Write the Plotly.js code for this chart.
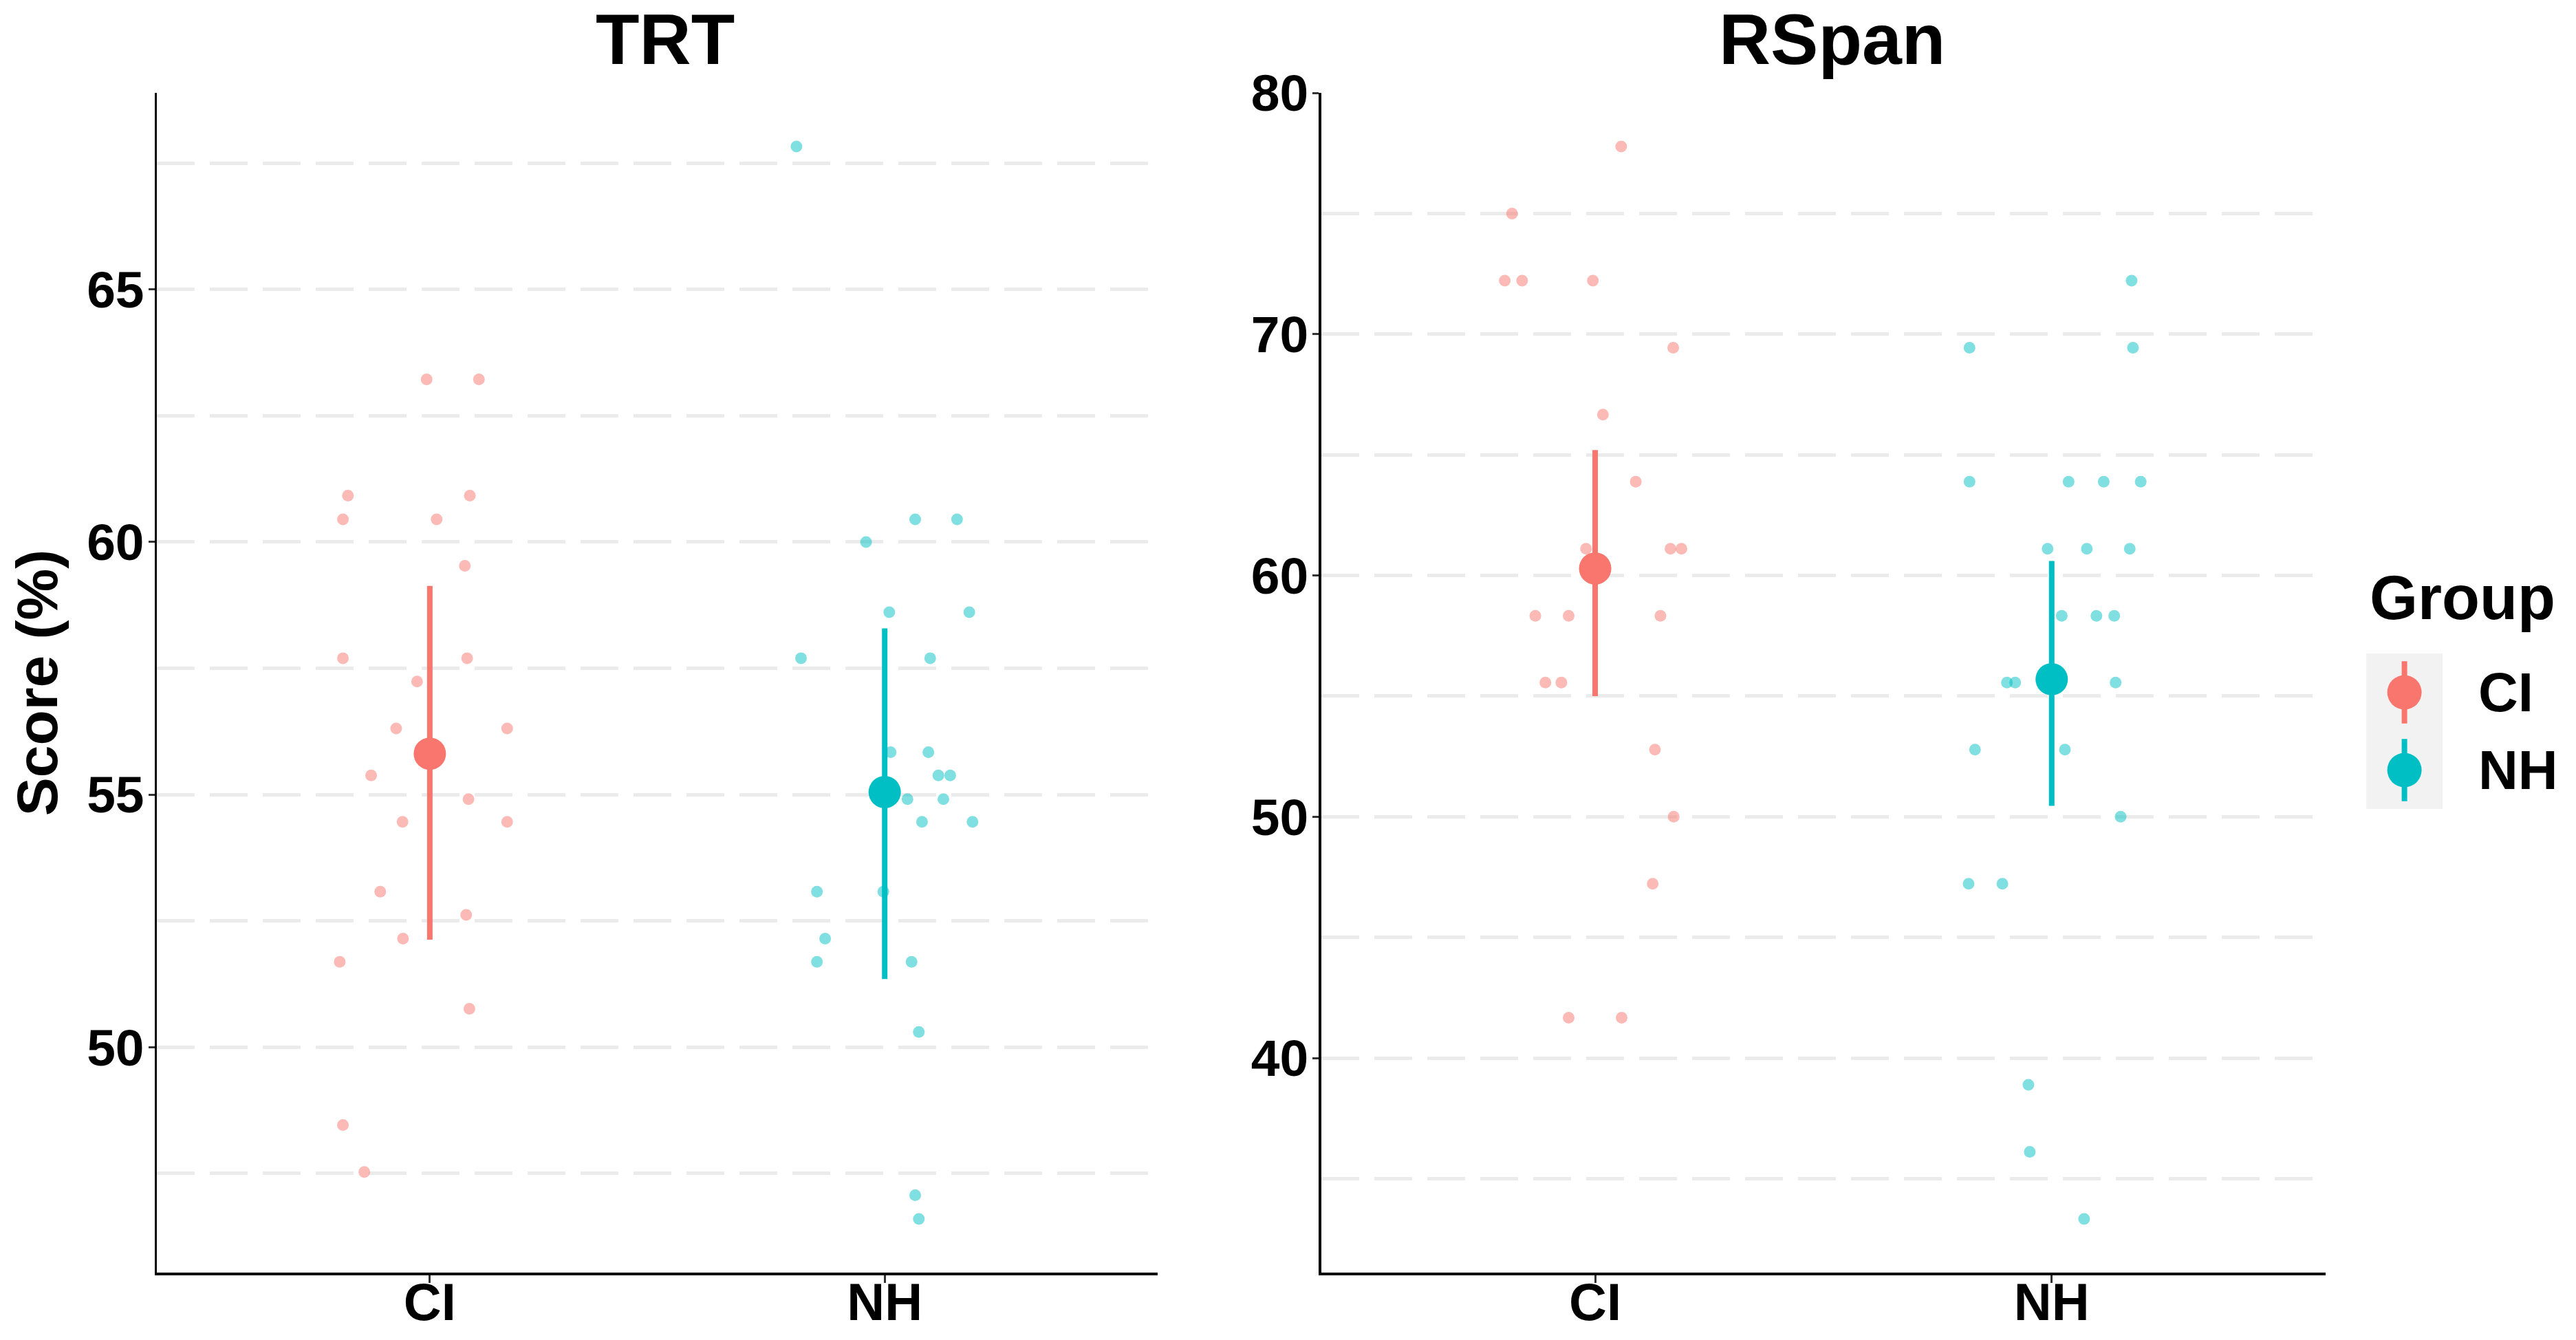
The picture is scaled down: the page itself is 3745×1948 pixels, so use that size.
<!DOCTYPE html>
<html>
<head>
<meta charset="utf-8">
<script src="https://cdn.plot.ly/plotly-3.0.1.min.js"></script>
<style>
    html, body { margin: 0; padding: 0; background: #ffffff; }
    #chart { width: 3745px; height: 1948px; }
</style>
</head>
<body>
<div id="chart"></div>
<script>
var groups = ["CI", "NH"];
var groupColors = ["#F8766D", "#00BFC4"];

// TRT scores (%), with the horizontal jitter of each point
var trtCiScores = [63.22, 63.22, 60.92, 60.92, 60.45, 60.45, 59.53, 57.70, 57.70, 57.24, 56.31, 56.31,
    55.38, 54.91, 54.46, 54.46, 53.08, 52.62, 52.15, 51.69, 50.76, 48.46, 47.53];
var trtCiJitter = [-0.007, 0.108, -0.180, 0.088, -0.191, 0.015, 0.077, -0.191, 0.082, -0.028, -0.074, 0.170,
    -0.129, 0.085, -0.060, 0.170, -0.109, 0.080, -0.059, -0.198, 0.087, -0.191, -0.144];
var trtNhScores = [67.83, 60.45, 60.45, 60.00, 58.61, 58.61, 57.70, 57.70, 55.84, 55.84, 55.38, 55.38,
    54.91, 54.91, 54.46, 54.46, 53.08, 53.08, 52.15, 51.69, 51.69, 50.30, 47.07, 46.60];
var trtNhJitter = [-0.194, 0.067, 0.159, -0.041, 0.010, 0.186, -0.184, 0.100, 0.013, 0.096, 0.118, 0.144,
    0.050, 0.129, 0.082, 0.193, -0.149, -0.003, -0.131, -0.149, 0.059, 0.075, 0.067, 0.075];
var trtMeans = [55.81, 55.05];
var trtLower = [52.13, 51.35];
var trtUpper = [59.13, 58.29];

// RSpan scores (%)
var rspanCiScores = [77.78, 75.00, 72.22, 72.22, 72.22, 69.44, 66.67, 63.89, 61.11, 61.11, 61.11,
    58.33, 58.33, 58.33, 55.56, 55.56, 52.78, 50.00, 47.22, 41.67, 41.67];
var rspanCiJitter = [0.057, -0.182, -0.198, -0.160, -0.005, 0.171, 0.017, 0.089, -0.020, 0.165, 0.189,
    -0.131, -0.058, 0.143, -0.109, -0.074, 0.131, 0.172, 0.126, -0.058, 0.058];
var rspanNhScores = [72.22, 69.44, 69.44, 63.89, 63.89, 63.89, 63.89, 61.11, 61.11, 61.11, 58.33, 58.33,
    58.33, 55.56, 55.56, 55.56, 52.78, 52.78, 50.00, 47.22, 47.22, 38.89, 36.11, 33.33];
var rspanNhJitter = [0.175, -0.180, 0.178, -0.180, 0.037, 0.114, 0.195, -0.009, 0.077, 0.171, 0.022, 0.098,
    0.137, -0.098, -0.080, 0.140, -0.168, 0.029, 0.151, -0.182, -0.108, -0.051, -0.048, 0.071];
var rspanMeans = [60.29, 55.70];
var rspanLower = [55.00, 50.45];
var rspanUpper = [65.20, 60.60];

var fontFamily = "Liberation Sans, Arial, sans-serif";

// same 5% padding ggplot puts round the data
function paddedRange(a, b) {
    var all = a.concat(b);
    var lo = Math.min.apply(null, all);
    var hi = Math.max.apply(null, all);
    var pad = (hi - lo) * 0.05;
    return [lo - pad, hi + pad];
}

function pointTrace(scores, jitter, g, axisId) {
    return {
        type: "scatter",
        mode: "markers",
        x: scores.map(function (s, i) { return g + 1 + jitter[i]; }),
        y: scores,
        xaxis: "x" + axisId,
        yaxis: "y" + axisId,
        marker: { color: groupColors[g], size: 17, opacity: 0.5, line: { width: 0 } },
        showlegend: false,
        hoverinfo: "skip"
    };
}

function summaryTrace(means, lower, upper, g, axisId) {
    return {
        type: "scatter",
        mode: "markers",
        x: [g + 1],
        y: [means[g]],
        xaxis: "x" + axisId,
        yaxis: "y" + axisId,
        marker: { color: groupColors[g], size: 47, line: { width: 0 } },
        error_y: {
            type: "data",
            symmetric: false,
            array: [upper[g] - means[g]],
            arrayminus: [means[g] - lower[g]],
            color: groupColors[g],
            thickness: 8,
            width: 0
        },
        showlegend: false,
        hoverinfo: "skip"
    };
}

// legend keys drawn in their own little subplot (error bars need a linear axis)
function legendTrace(g) {
    return {
        type: "scatter",
        mode: "markers",
        x: [0],
        y: [g],
        xaxis: "x3",
        yaxis: "y3",
        marker: { color: groupColors[g], size: 50, line: { width: 0 } },
        error_y: { type: "constant", value: 0.4, color: groupColors[g], thickness: 8, width: 0 },
        showlegend: false,
        hoverinfo: "skip"
    };
}

function gridStyle(step) {
    return { dtick: step, showgrid: true, gridcolor: "#EBEBEB", gridwidth: 5, griddash: "55px,22px" };
}

function valueAxis(range, step, anchor) {
    var axis = gridStyle(step);
    axis.range = range;
    axis.tick0 = 0;
    axis.anchor = anchor;
    axis.minor = gridStyle(step / 2);
    axis.zeroline = false;
    axis.showline = true;
    axis.linecolor = "#000000";
    axis.linewidth = 3.5;
    axis.ticks = "outside";
    axis.ticklen = 9;
    axis.tickwidth = 3;
    axis.tickcolor = "#333333";
    axis.ticklabelstandoff = -9;
    axis.tickfont = { family: fontFamily, size: 75, weight: "bold", color: "#000000" };
    axis.fixedrange = true;
    return axis;
}

function groupAxis(domain, anchor) {
    return {
        domain: domain,
        anchor: anchor,
        range: [0.4, 2.6],
        tickvals: [1, 2],
        ticktext: groups,
        showgrid: false,
        zeroline: false,
        showline: true,
        linecolor: "#000000",
        linewidth: 3.5,
        ticks: "outside",
        ticklen: 11,
        tickwidth: 3,
        tickcolor: "#333333",
        ticklabelstandoff: -37,
        tickfont: { family: fontFamily, size: 76, weight: "bold", color: "#000000" },
        fixedrange: true
    };
}

var data = [
    pointTrace(trtCiScores, trtCiJitter, 0, ""),
    pointTrace(trtNhScores, trtNhJitter, 1, ""),
    summaryTrace(trtMeans, trtLower, trtUpper, 0, ""),
    summaryTrace(trtMeans, trtLower, trtUpper, 1, ""),
    pointTrace(rspanCiScores, rspanCiJitter, 0, "2"),
    pointTrace(rspanNhScores, rspanNhJitter, 1, "2"),
    summaryTrace(rspanMeans, rspanLower, rspanUpper, 0, "2"),
    summaryTrace(rspanMeans, rspanLower, rspanUpper, 1, "2"),
    legendTrace(0),
    legendTrace(1)
];

var yaxis = valueAxis(paddedRange(trtCiScores, trtNhScores), 5, "x");
yaxis.title = { text: "Score (%)", font: { family: fontFamily, size: 84, weight: "bold", color: "#000000" }, standoff: 15 };
yaxis.automargin = false;

var titleFont = { family: fontFamily, size: 104, weight: "bold", color: "#000000" };

var layout = {
    width: 3745,
    height: 1948,
    margin: { l: 0, r: 0, t: 135, b: 98 },
    paper_bgcolor: "#ffffff",
    plot_bgcolor: "#ffffff",
    showlegend: false,
    xaxis: groupAxis([0.0609, 0.4494], "y"),
    yaxis: yaxis,
    xaxis2: groupAxis([0.5129, 0.9028], "y2"),
    yaxis2: valueAxis(paddedRange(rspanCiScores, rspanNhScores), 10, "x2"),
    xaxis3: {
        domain: [0.9186, 0.9482], anchor: "y3", range: [-1, 1],
        showgrid: false, zeroline: false, showline: false, showticklabels: false, ticks: "", fixedrange: true
    },
    yaxis3: {
        domain: [0.3930, 0.5248], anchor: "x3", range: [1.5, -0.5],
        tickvals: [0, 1], ticktext: groups,
        side: "right", showgrid: false, zeroline: false, showline: false, ticks: "",
        ticklabelstandoff: 51,
        tickfont: { family: fontFamily, size: 80, weight: "bold", color: "#000000" },
        fixedrange: true
    },
    shapes: [{
        type: "rect", xref: "x3 domain", yref: "y3 domain", x0: 0, x1: 1, y0: 0, y1: 1,
        fillcolor: "#F2F2F2", line: { width: 0 }, layer: "below"
    }],
    annotations: [
        { text: "TRT", xref: "paper", yref: "paper", x: 0.2582, y: 1.0455, xanchor: "center", yanchor: "middle", showarrow: false, font: titleFont },
        { text: "RSpan", xref: "paper", yref: "paper", x: 0.7113, y: 1.0455, xanchor: "center", yanchor: "middle", showarrow: false, font: titleFont },
        { text: "Group", xref: "paper", yref: "paper", x: 0.9194, y: 0.5720, xanchor: "left", yanchor: "middle", showarrow: false,
          font: { family: fontFamily, size: 90, weight: "bold", color: "#000000" } }
    ]
};

Plotly.newPlot("chart", data, layout, { displayModeBar: false, staticPlot: true });
</script>
</body>
</html>
